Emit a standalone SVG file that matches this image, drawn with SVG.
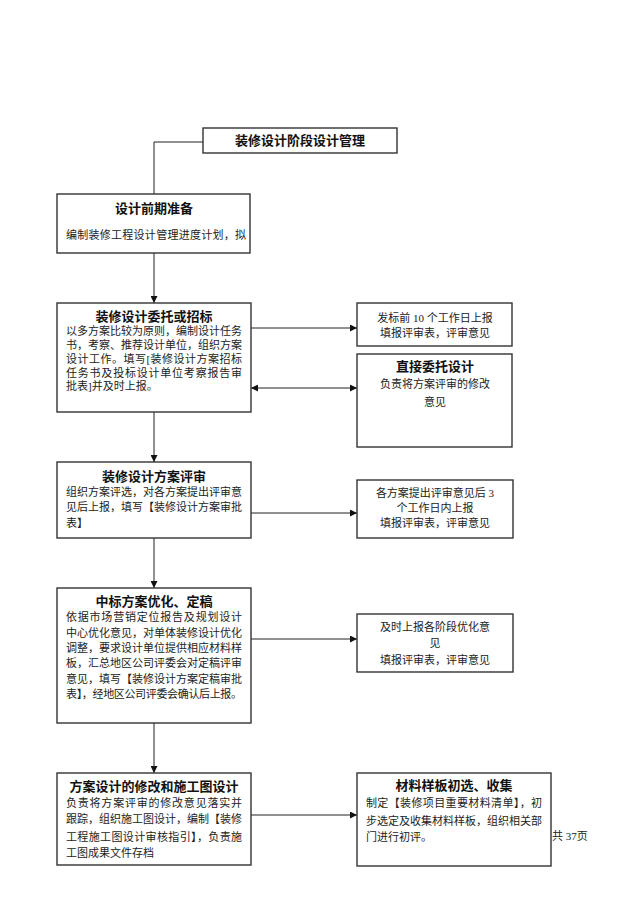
<svg xmlns="http://www.w3.org/2000/svg" width="640" height="905" viewBox="0 0 640 905">
<defs>
<marker id="arr" viewBox="0 0 10 10" refX="10" refY="5" markerWidth="7" markerHeight="7" markerUnits="userSpaceOnUse" orient="auto-start-reverse">
<path d="M0,0 L10,5 L0,10 z" fill="#111"/>
</marker>
<style>
.box{fill:#fff;stroke:#333;stroke-width:1.4}
.ln{fill:none;stroke:#222;stroke-width:1}
.t{font-family:"Liberation Serif","Noto Sans CJK SC",serif;font-size:13px;font-weight:bold;fill:#111;text-anchor:middle}
.b{font-family:"Liberation Serif","Noto Sans CJK SC",serif;font-size:11px;fill:#222}
.c{text-anchor:middle}
</style>
</defs>
<rect width="640" height="905" fill="#fff"/>
<g id="connectors">
<path class="ln" d="M203,142 H154 V194"/>
<path class="ln" d="M154,253 V303" marker-end="url(#arr)"/>
<path class="ln" d="M251,328 H357" marker-end="url(#arr)"/>
<path class="ln" d="M251,388 H357" marker-start="url(#arr)" marker-end="url(#arr)"/>
<path class="ln" d="M154,412 V462" marker-end="url(#arr)"/>
<path class="ln" d="M251,513 H357" marker-end="url(#arr)"/>
<path class="ln" d="M154,538 V588" marker-end="url(#arr)"/>
<path class="ln" d="M251,639 H357" marker-end="url(#arr)"/>
<path class="ln" d="M154,723 V773" marker-end="url(#arr)"/>
<path class="ln" d="M251,815 H357" marker-end="url(#arr)"/>
</g>
<g id="title">
<rect class="box" x="203" y="128" width="194" height="25"/>
<text class="t" x="300" y="145">装修设计阶段设计管理</text>
</g>
<g id="n1">
<rect class="box" x="57" y="194" width="193" height="59"/>
<text class="t" x="154" y="213">设计前期准备</text>
<text class="b" x="66" y="239" textLength="180" lengthAdjust="spacing">编制装修工程设计管理进度计划，拟</text>
</g>
<g id="n2">
<rect class="box" x="57" y="303" width="194" height="109"/>
<text class="t" x="154" y="321">装修设计委托或招标</text>
<text class="b" x="66" y="335" textLength="176" lengthAdjust="spacing">以多方案比较为原则，编制设计任务</text>
<text class="b" x="66" y="349" textLength="176" lengthAdjust="spacing">书，考察、推荐设计单位，组织方案</text>
<text class="b" x="66" y="363" textLength="176" lengthAdjust="spacing">设计工作。填写[装修设计方案招标</text>
<text class="b" x="66" y="377" textLength="176" lengthAdjust="spacing">任务书及投标设计单位考察报告审</text>
<text class="b" x="66" y="390">批表]并及时上报。</text>
</g>
<g id="s1">
<rect class="box" x="357" y="303" width="155" height="43"/>
<text class="b c" x="435" y="322">发标前 10 个工作日上报</text>
<text class="b c" x="435" y="337">填报评审表，评审意见</text>
</g>
<g id="s2">
<rect class="box" x="357" y="354" width="155" height="93"/>
<text class="t" x="435" y="371">直接委托设计</text>
<text class="b c" x="435" y="388">负责将方案评审的修改</text>
<text class="b c" x="435" y="406">意见</text>
</g>
<g id="n3">
<rect class="box" x="57" y="462" width="194" height="76"/>
<text class="t" x="154" y="481">装修设计方案评审</text>
<text class="b" x="66" y="496" textLength="176" lengthAdjust="spacing">组织方案评选，对各方案提出评审意</text>
<text class="b" x="66" y="511" textLength="176" lengthAdjust="spacing">见后上报，填写【装修设计方案审批</text>
<text class="b" x="66" y="527">表】</text>
</g>
<g id="s3">
<rect class="box" x="357" y="480" width="156" height="58"/>
<text class="b c" x="435" y="497">各方案提出评审意见后 3</text>
<text class="b c" x="435" y="512">个工作日内上报</text>
<text class="b c" x="435" y="527">填报评审表，评审意见</text>
</g>
<g id="n4">
<rect class="box" x="57" y="588" width="194" height="135"/>
<text class="t" x="154" y="606">中标方案优化、定稿</text>
<text class="b" x="66" y="621" textLength="176" lengthAdjust="spacing">依据市场营销定位报告及规划设计</text>
<text class="b" x="66" y="637" textLength="176" lengthAdjust="spacing">中心优化意见，对单体装修设计优化</text>
<text class="b" x="66" y="652" textLength="176" lengthAdjust="spacing">调整，要求设计单位提供相应材料样</text>
<text class="b" x="66" y="667" textLength="176" lengthAdjust="spacing">板，汇总地区公司评委会对定稿评审</text>
<text class="b" x="66" y="683" textLength="176" lengthAdjust="spacing">意见，填写【装修设计方案定稿审批</text>
<text class="b" x="66" y="698" textLength="176" lengthAdjust="spacing">表】，经地区公司评委会确认后上报。</text>
</g>
<g id="s4">
<rect class="box" x="357" y="614" width="156" height="58"/>
<text class="b c" x="435" y="631">及时上报各阶段优化意</text>
<text class="b c" x="435" y="647">见</text>
<text class="b c" x="435" y="664">填报评审表，评审意见</text>
</g>
<g id="n5">
<rect class="box" x="57" y="773" width="194" height="92"/>
<text class="t" x="154" y="791">方案设计的修改和施工图设计</text>
<text class="b" x="66" y="807" textLength="176" lengthAdjust="spacing">负责将方案评审的修改意见落实并</text>
<text class="b" x="66" y="823" textLength="176" lengthAdjust="spacing">跟踪，组织施工图设计，编制【装修</text>
<text class="b" x="66" y="841" textLength="176" lengthAdjust="spacing">工程施工图设计审核指引】，负责施</text>
<text class="b" x="66" y="857">工图成果文件存档</text>
</g>
<g id="s5">
<rect class="box" x="357" y="773" width="194" height="93"/>
<text class="t" x="454" y="790">材料样板初选、收集</text>
<text class="b" x="366" y="807" textLength="176" lengthAdjust="spacing">制定【装修项目重要材料清单】，初</text>
<text class="b" x="366" y="825" textLength="176" lengthAdjust="spacing">步选定及收集材料样板，组织相关部</text>
<text class="b" x="366" y="841">门进行初评。</text>
</g>
<text class="b" x="552" y="840" font-size="9.5">共 37页</text>
</svg>
